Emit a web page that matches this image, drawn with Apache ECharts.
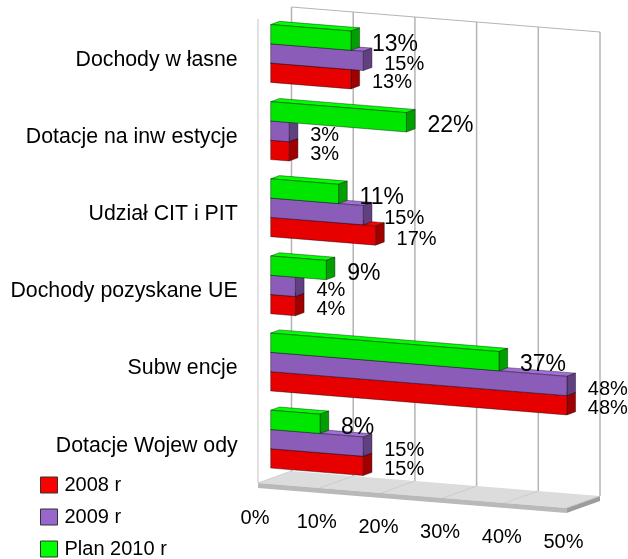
<!DOCTYPE html>
<html>
<head>
<meta charset="utf-8">
<style>
  html, body { margin: 0; padding: 0; background: #fff; }
  #myChart { width: 628px; height: 559px; }
</style>
<script src="https://cdn.jsdelivr.net/npm/echarts@6/dist/echarts.min.js"></script>
</head>
<body>
<div id="myChart"></div>
<script>
const categories = ['Dochody w łasne', 'Dotacje na inw estycje', 'Udział CIT i PIT', 'Dochody pozyskane UE', 'Subw encje', 'Dotacje Wojew ody']
const values2008 = [13, 3, 17, 4, 48, 15]
const values2009 = [15, 3, 15, 4, 48, 15]
const valuesPlan = [13, 22, 11, 9, 37, 8]
const ticks = [0, 10, 20, 30, 40, 50]

const FONT = '"Liberation Sans", Arial, sans-serif'
const SLOPE = 0.081      // the whole chart is tilted, y grows with x
const BAR_DX = 8.7       // depth of a bar on screen
const BAR_DY = -3.2
const WALL_DX = 20.8     // back wall, from the bars plane
const FLOOR_DX = -12.7   // front edge of the floor, from the bars plane
const WALL_TOP = 7
const FLOOR_BACK = 471
const FLOOR_FRONT = 483
const FLOOR_H = 5

const myChart = echarts.init(document.getElementById('myChart'))

function barSeries(name, values, slot, colors, labelSize) {
  return {
    name: name,
    type: 'custom',
    coordinateSystem: 'cartesian2d',
    z: 3,
    itemStyle: { color: colors.legend },
    encode: { x: 0, y: 1 },
    data: values.map((v, i) => [v, i]),
    renderItem: function (params, api) {
      const v = api.value(0)
      const c = api.value(1)
      const band = api.size([0, 1])[1]
      const barH = band / 4
      const x0 = api.coord([0, c])[0]
      const rowY = api.coord([0, c])[1] - 6.5 + (slot - 1.5) * barH
      const xe = api.coord([v, c])[0]
      const yEnd = rowY + (xe - x0) * SLOPE
      const line = { stroke: 'rgba(0,0,0,0.65)', lineWidth: 0.6 }
      return {
        type: 'group',
        children: [
          {
            type: 'polygon',
            shape: { points: [[x0, rowY], [x0 + BAR_DX, rowY + BAR_DY], [xe + BAR_DX, yEnd + BAR_DY], [xe, yEnd]] },
            style: Object.assign({ fill: colors.top }, line)
          },
          {
            type: 'polygon',
            shape: { points: [[xe, yEnd], [xe + BAR_DX, yEnd + BAR_DY], [xe + BAR_DX, yEnd + BAR_DY + barH], [xe, yEnd + barH]] },
            style: Object.assign({ fill: colors.side }, line)
          },
          {
            type: 'polygon',
            shape: { points: [[x0, rowY], [xe, yEnd], [xe, yEnd + barH], [x0, rowY + barH]] },
            style: Object.assign({ fill: colors.front }, line)
          },
          {
            type: 'text',
            z2: 100,
            style: {
              text: v + '%',
              x: xe + 21,
              y: yEnd + barH / 2 + 3.5,
              fill: '#000',
              fontFamily: FONT,
              fontSize: labelSize,
              align: 'left',
              verticalAlign: 'middle'
            }
          }
        ]
      }
    }
  }
}

const option = {
  backgroundColor: '#fff',
  animation: false,
  grid: { left: 270.7, top: 21.4, width: 308.5, height: 462.8 },
  legend: {
    orient: 'vertical',
    left: 40,
    top: 475,
    height: 84,
    padding: 0,
    itemWidth: 17,
    itemHeight: 16,
    itemGap: 12,
    icon: 'rect',
    selectedMode: false,
    itemStyle: { borderColor: '#333', borderWidth: 1 },
    textStyle: { fontFamily: FONT, fontSize: 20, color: '#000', padding: [6, 0, 0, 2] },
    data: ['2008 r', '2009 r', 'Plan 2010 r']
  },
  xAxis: { type: 'value', min: 0, max: 50, interval: 10, show: false },
  yAxis: {
    type: 'category',
    inverse: true,
    data: categories,
    axisLine: { show: false },
    axisTick: { show: false },
    splitLine: { show: false },
    axisLabel: { margin: 33, fontFamily: FONT, fontSize: 21.3, color: '#000' }
  },
  series: [
    {
      // back wall and gridlines
      type: 'custom',
      z: 1,
      silent: true,
      encode: { x: 0 },
      data: ticks.map(t => [t]),
      renderItem: function (params, api) {
        const x0 = api.coord([0, 0])[0]
        const x = api.coord([api.value(0), 0])[0]
        const dy = (x - x0) * SLOPE
        const wall = { stroke: '#b4b4b4', lineWidth: 1.5, fill: 'none' }
        const children = [{
          type: 'line',
          shape: { x1: x + WALL_DX, y1: WALL_TOP + dy, x2: x + WALL_DX, y2: FLOOR_BACK + dy },
          style: wall
        }]
        if (params.dataIndex === 0) {
          const xr = api.coord([ticks[ticks.length - 1], 0])[0]
          children.push({
            type: 'line',
            shape: { x1: x0 + WALL_DX, y1: WALL_TOP, x2: xr + WALL_DX, y2: WALL_TOP + (xr - x0) * SLOPE },
            style: { stroke: '#b4b4b4', lineWidth: 1 }
          })
          children.push({
            type: 'line',
            shape: { x1: x0 + FLOOR_DX, y1: 19, x2: x0 + FLOOR_DX, y2: FLOOR_FRONT },
            style: { stroke: '#c4c4c4', lineWidth: 1 }
          })
        }
        return { type: 'group', children: children }
      }
    },
    {
      // floor slab, and the tilted tick labels
      type: 'custom',
      z: 2,
      silent: true,
      encode: { x: 0 },
      data: ticks.map(t => [t]),
      renderItem: function (params, api) {
        const x0 = api.coord([0, 0])[0]
        const t = api.value(0)
        const i = params.dataIndex
        const x = api.coord([t, 0])[0]
        const dy = (x - x0) * SLOPE
        const children = [{
          type: 'text',
          style: {
            text: t + '%',
            x: x + FLOOR_DX - 3,
            y: 518 + (x - x0) * 0.078,
            fill: '#000',
            fontFamily: FONT,
            fontSize: 20,
            align: 'center',
            verticalAlign: 'middle'
          }
        }]
        if (i === 0) {
          const xr = api.coord([ticks[ticks.length - 1], 0])[0]
          const dr = (xr - x0) * SLOPE
          const fl = xr + FLOOR_DX
          const bl = xr + WALL_DX
          children.push({
            type: 'polygon',
            shape: { points: [[x0 + WALL_DX, FLOOR_BACK], [bl, FLOOR_BACK + dr], [fl, FLOOR_FRONT + dr], [x0 + FLOOR_DX, FLOOR_FRONT]] },
            style: { fill: '#dcdcdc' }
          })
          children.push({
            type: 'polygon',
            shape: { points: [[x0 + FLOOR_DX, FLOOR_FRONT], [fl, FLOOR_FRONT + dr], [fl, FLOOR_FRONT + dr + FLOOR_H], [x0 + FLOOR_DX, FLOOR_FRONT + FLOOR_H]] },
            style: { fill: '#b9b9b9' }
          })
          children.push({
            type: 'polygon',
            shape: { points: [[fl, FLOOR_FRONT + dr], [bl, FLOOR_BACK + dr], [bl, FLOOR_BACK + dr + FLOOR_H], [fl, FLOOR_FRONT + dr + FLOOR_H]] },
            style: { fill: '#9c9c9c' }
          })
        }
        children.push({
          type: 'line',
          z2: 5,
          shape: { x1: x + WALL_DX, y1: FLOOR_BACK + dy, x2: x + FLOOR_DX, y2: FLOOR_FRONT + dy },
          style: { stroke: '#c8c8c8', lineWidth: 0.8 }
        })
        return { type: 'group', children: children }
      }
    },
    barSeries('2008 r', values2008, 2, { legend: '#ff0000', front: '#e60000', side: '#a00000', top: '#ff0000' }, 20),
    barSeries('2009 r', values2009, 1, { legend: '#9966cc', front: '#8b5cb8', side: '#604080', top: '#a06fd8' }, 20),
    barSeries('Plan 2010 r', valuesPlan, 0, { legend: '#00ff00', front: '#00e600', side: '#00a000', top: '#00ff00' }, 23)
  ]
}
myChart.setOption(option)
</script>
</body>
</html>
